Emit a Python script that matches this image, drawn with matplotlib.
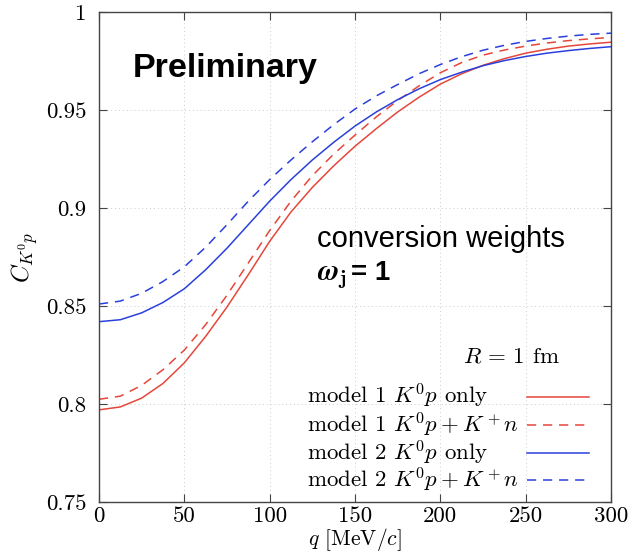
import numpy as np
import matplotlib
matplotlib.use("Agg")
import matplotlib.pyplot as plt
from matplotlib.lines import Line2D

plt.rcParams["font.family"] = ["cmr10", "DejaVu Serif"]
plt.rcParams["mathtext.fontset"] = "cm"
plt.rcParams["axes.unicode_minus"] = False
plt.rcParams["axes.formatter.use_mathtext"] = True

# relative momentum q [MeV/c]
q = [0, 12.5, 25, 37.5, 50, 62.5, 75, 87.5, 100, 112.5, 125, 137.5, 150,
     162.5, 175, 187.5, 200, 212.5, 225, 237.5, 250, 262.5, 275, 287.5, 300]

# correlation function C_{K0p}(q) for each model / channel setup
model1_only = [0.7970, 0.7985, 0.8030, 0.8105, 0.8210, 0.8345, 0.8495, 0.8660,
               0.8830, 0.8980, 0.9105, 0.9215, 0.9315, 0.9405, 0.9490, 0.9565,
               0.9632, 0.9685, 0.9728, 0.9762, 0.9790, 0.9810, 0.9826, 0.9837, 0.9846]
model1_coupled = [0.8024, 0.8040, 0.8095, 0.8175, 0.8275, 0.8405, 0.8555, 0.8720,
                  0.8885, 0.9035, 0.9165, 0.9275, 0.9372, 0.9465, 0.9548, 0.9623,
                  0.9690, 0.9742, 0.9780, 0.9806, 0.9826, 0.9842, 0.9854, 0.9863, 0.9870]
model2_only = [0.8420, 0.8430, 0.8465, 0.8518, 0.8588, 0.8685, 0.8795, 0.8915,
               0.9035, 0.9145, 0.9245, 0.9335, 0.9418, 0.9490, 0.9553, 0.9608,
               0.9655, 0.9693, 0.9726, 0.9752, 0.9773, 0.9790, 0.9803, 0.9814, 0.9823]
model2_coupled = [0.8510, 0.8525, 0.8565, 0.8625, 0.8700, 0.8800, 0.8915, 0.9035,
                  0.9145, 0.9245, 0.9338, 0.9425, 0.9505, 0.9572, 0.9630, 0.9685,
                  0.9732, 0.9772, 0.9805, 0.9830, 0.9850, 0.9865, 0.9877, 0.9886, 0.9892]

labels = [r"model 1 $K^0p$ only",
          r"model 1 $K^0p+K^+n$",
          r"model 2 $K^0p$ only",
          r"model 2 $K^0p+K^+n$"]

x_ticks = [0, 50, 100, 150, 200, 250, 300]
y_ticks = [0.75, 0.8, 0.85, 0.9, 0.95, 1.0]
y_tick_labels = ["0.75", "0.8", "0.85", "0.9", "0.95", "1"]

RED = "#e5473a"
BLUE = "#2a40dc"
DASH = (0, (6.0, 4.5))
series = [(model1_only, RED, "-"), (model1_coupled, RED, DASH),
          (model2_only, BLUE, "-"), (model2_coupled, BLUE, DASH)]

FS = 16.5

fig = plt.figure(figsize=(6.35, 5.52), dpi=100)
ax = fig.add_axes([99 / 635, 50 / 552, 512 / 635, 490 / 552])

for (vals, col, ls) in series:
    ax.plot(q, vals, color=col, linestyle=ls, linewidth=1.1,
            solid_joinstyle="round", dash_joinstyle="round")

ax.set_xlim(0, 300)
ax.set_ylim(0.75, 1.0)
ax.set_xticks(x_ticks)
ax.set_xticklabels([str(t) for t in x_ticks])
ax.set_yticks(y_ticks)
ax.set_yticklabels(y_tick_labels)
ax.tick_params(direction="in", length=6, width=0.8, top=True, right=True,
               labelsize=FS, color="#444444")
ax.tick_params(axis="x", pad=3)
ax.tick_params(axis="y", pad=9)
ax.grid(True, linestyle=(0, (1, 3)), color="#cccccc", linewidth=0.7)
for sp in ax.spines.values():
    sp.set_color("#444444")
    sp.set_linewidth(1.0)

ax.set_xlabel(r"$q$ [MeV$/c$]", fontsize=15.5, labelpad=0)
ax.set_ylabel(r"$C_{K^0p}$", fontsize=FS + 1, labelpad=4)

# key drawn gnuplot-style: left-justified text, sample lines in a column on the right
row_y = [0.2143, 0.157, 0.1, 0.0449]
for (vals, col, ls), lab, yy in zip(series, labels, row_y):
    ax.text(0.406, yy - 0.0143, lab, transform=ax.transAxes, fontsize=FS,
            ha="left", va="baseline")
    ax.add_line(Line2D([0.836, 0.957], [yy, yy], transform=ax.transAxes,
                       color=col, linestyle=ls, linewidth=1.1))
ax.text(0.711, 0.285, r"$R\,=\,1$ fm", transform=ax.transAxes, fontsize=FS,
        ha="left", va="baseline")

# annotations
ax.text(0.066, 0.885, "Preliminary", transform=ax.transAxes,
        family="Liberation Sans", fontweight="bold", fontsize=24.5,
        ha="left", va="center")
ax.text(0.426, 0.521, "conversion weights", transform=ax.transAxes,
        family="Liberation Sans", fontsize=21, ha="left", va="baseline")
ax.text(0.426, 0.453, r"$\boldsymbol{\omega}_{\mathbf{j}}$", transform=ax.transAxes,
        fontsize=21, ha="left", va="baseline")
ax.text(0.492, 0.453, "= 1", transform=ax.transAxes,
        family="Liberation Sans", fontweight="bold", fontsize=20,
        ha="left", va="baseline")

fig.savefig("out.png", dpi=100)
